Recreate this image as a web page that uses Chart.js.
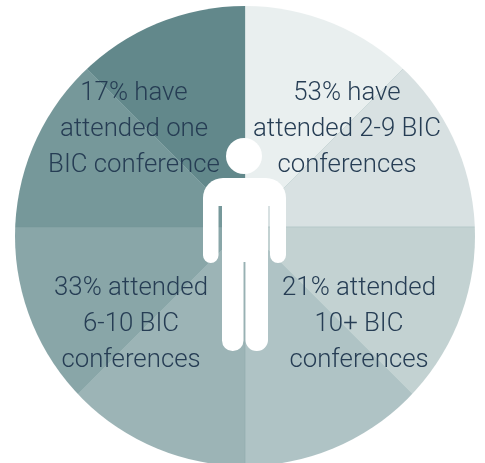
<!DOCTYPE html>
<html>
<head>
<meta charset="utf-8">
<style>
  html, body { margin: 0; padding: 0; background: #fff; overflow: hidden; }
  #zone { position: absolute; left: 0; top: 0; width: 485px; height: 463px; overflow: hidden; }
  /* the wedges meet a little above the middle of the disc, so the pie is oversized and cut to the disc */
  #pieWrap { position: absolute; left: -5px; top: -23px; width: 500px; height: 500px; clip-path: circle(230px at 250px 259px); }
</style>
<script src="https://cdn.jsdelivr.net/npm/chart.js@4"></script>
</head>
<body>
<div id="zone">
  <div id="pieWrap"><canvas id="myChart" width="500" height="500"></canvas></div>
</div>
<script>
// eight equal wedges, clockwise from 12 o'clock
const sliceNames = ["a", "b", "c", "d", "e", "f", "g", "h"];
const sliceValues = [1, 1, 1, 1, 1, 1, 1, 1];
const sliceColors = ["#e9efef", "#d8e1e2", "#c3d2d2", "#afc3c5", "#9cb4b6", "#89a6a8", "#76989a", "#62888b"];

const labelLines = [
  { lines: ["53% have", "attended 2-9 BIC", "conferences"], x: 347, y: 91 },
  { lines: ["21% attended", "10+ BIC", "conferences"], x: 359, y: 286 },
  { lines: ["33% attended", "6-10 BIC", "conferences"], x: 131, y: 286 },
  { lines: ["17% have", "attended one", "BIC conference"], x: 134, y: 91 },
];

// person drawn on top of the pie, in page coordinates
const personPlugin = {
  id: "person",
  afterDraw(chart) {
    const ctx = chart.ctx;
    ctx.save();
    ctx.translate(5, 23);
    ctx.fillStyle = "#ffffff";
    ctx.beginPath();
    ctx.arc(244, 156, 18, 0, Math.PI * 2);
    ctx.fill();
    ctx.beginPath();
    ctx.roundRect(203, 178, 83, 28, [20, 20, 0, 0]);
    ctx.fill();
    ctx.beginPath();
    ctx.roundRect(203, 195, 15.5, 68, 7.75);
    ctx.roundRect(270, 195, 16, 68, 8);
    ctx.fill();
    ctx.beginPath();
    ctx.rect(222, 190, 46, 72);
    ctx.roundRect(222, 240, 21.5, 111, 10.5);
    ctx.roundRect(245.5, 240, 22.5, 111, 11);
    ctx.fill();
    ctx.restore();
  },
};

new Chart(document.getElementById("myChart").getContext("2d"), {
  type: "pie",
  data: {
    labels: sliceNames,
    datasets: [{ data: sliceValues, backgroundColor: sliceColors, borderWidth: 0.5, borderColor: "rgba(110,145,148,0.3)" }],
  },
  options: {
    responsive: false,
    animation: { duration: 0 },
    plugins: { legend: { display: false }, tooltip: { enabled: false } },
  },
  plugins: [personPlugin],
});

// the captions sit above the clipped pie as real text
const zone = document.getElementById("zone");
labelLines.forEach((block) => {
  block.lines.forEach((line, i) => {
    const el = document.createElement("div");
    el.textContent = line;
    el.style.cssText =
      "position:absolute;transform:translate(-50%,-50%);white-space:nowrap;" +
      "font:300 25.8px Roboto,'Liberation Sans',sans-serif;color:#263d54;" +
      "left:" + block.x + "px;top:" + (block.y + i * 36) + "px";
    zone.appendChild(el);
  });
});
</script>
</body>
</html>
